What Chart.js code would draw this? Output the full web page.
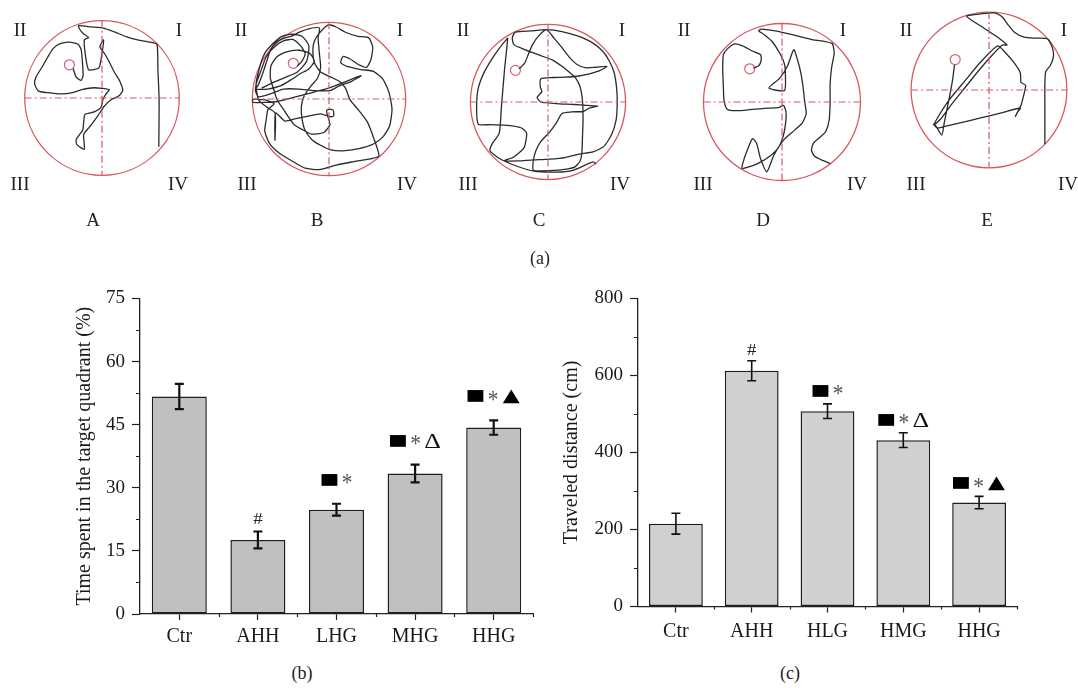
<!DOCTYPE html>
<html><head><meta charset="utf-8">
<script src="https://cdn.jsdelivr.net/npm/chart.js@4.4.1/dist/chart.umd.min.js"></script>
<style>
html,body{margin:0;padding:0;background:#fff;width:1078px;height:688px;overflow:hidden;}
body{position:relative;font-family:"Liberation Serif","Times New Roman",serif;color:#222;}
.lbl{position:absolute;font-size:19px;transform:translate(-50%,-50%);white-space:nowrap;line-height:1;}
.box{position:absolute;}
</style></head><body>
<script>
// ---------------- DATA ----------------
const groupsB = ['Ctr','AHH','LHG','MHG','HHG'];
const timeInTarget = [51.7,17.6,24.8,33.4,44.3];
const timeInTargetErr = [3.0,2.0,1.4,2.1,1.7];
const marksB = ['','#','■*','■*Δ','■*▲'];
const yTicksB = [0,15,30,45,60,75];

const groupsC = ['Ctr','AHH','HLG','HMG','HHG'];
const travelDistance = [215,612,507,432,270];
const travelDistanceErr = [27,26,19,19,16];
const marksC = ['','#','■*','■*Δ','■*▲'];
const yTicksC = [0,200,400,600,800];

const poolNames = ['A','B','C','D','E'];
const quadrantNames = ['I','II','III','IV'];

// swim tracks, pool coordinates (y grows downward), one array per pool
const trackA = [[212,200],[222,228],[238,238],[244,222],[242,180],[238,140],[228,122],[200,115],[170,120],[148,135],[132,160],[112,195],[92,228],[88,250],[100,272],[130,278],[175,282],[210,278],[240,268],[280,262],[328,268],[318,282],[308,300],[302,325],[280,340],[250,348],[246,372],[243,398],[222,428],[224,445],[248,460],[246,412],[265,388],[290,355],[312,322],[335,300],[360,288],[372,270],[362,240],[345,212],[328,178],[312,150],[298,130],[310,108],[305,150],[295,198],[262,204],[252,160],[248,108],[262,100],[245,88],[232,72],[230,62],[270,66],[310,70],[345,82],[385,98],[420,108],[460,115],[482,122],[485,200],[489,300],[488,452]];
const trackB = [[224,192],[240,175],[250,150],[235,125],[210,105],[180,110],[150,130],[125,160],[110,200],[95,240],[90,270],[100,290],[140,280],[180,265],[230,265],[280,270],[330,270],[360,255],[400,240],[430,222],[330,260],[240,285],[160,305],[82,308],[82,298],[120,300],[150,312],[130,332],[125,362],[120,400],[135,440],[165,470],[205,495],[250,520],[300,524],[350,510],[400,500],[460,490],[488,480],[470,420],[450,370],[420,330],[395,300],[380,262],[360,240],[330,225],[300,210],[280,180],[275,140],[280,110],[300,80],[325,58],[350,65],[380,82],[420,95],[455,100],[468,130],[462,170],[448,195],[420,185],[395,168],[372,160],[365,180],[385,192],[430,202],[470,208],[500,232],[520,275],[530,330],[522,385],[500,420],[470,442],[420,458],[370,464],[330,460],[300,446],[272,428],[250,398],[240,360],[238,320],[248,285],[268,256],[290,230],[300,195],[296,150],[292,100],[296,68],[265,70],[235,80],[205,95],[185,100],[160,112],[140,135],[128,170],[115,210],[100,250],[92,265],[130,265],[170,255],[205,235],[235,215],[262,200],[280,175],[265,150],[230,140],[190,145],[160,160],[140,190],[138,230],[150,270],[160,300],[180,330],[200,360],[215,380],[240,395],[270,410],[310,405],[330,380],[322,350],[320,332],[340,332],[342,352],[330,354],[300,345],[260,352],[220,360],[185,368],[155,342],[153,430],[153,342],[125,322],[100,300],[92,250],[105,190],[120,150],[145,120],[175,95],[210,88],[240,95],[262,125],[255,175],[225,210],[185,228],[145,245],[110,262]];
const trackC = [[232,198],[250,180],[262,150],[275,120],[295,92],[320,72],[345,100],[370,130],[395,162],[420,185],[448,195],[480,193],[515,190],[490,205],[455,215],[420,222],[380,225],[340,226],[302,230],[300,255],[305,272],[290,290],[302,305],[350,310],[410,313],[450,316],[485,318],[455,326],[440,335],[400,337],[370,342],[352,372],[330,402],[302,432],[286,462],[278,492],[278,525],[330,526],[385,521],[412,514],[428,496],[434,470],[436,420],[438,360],[436,300],[428,255],[412,225],[395,210],[370,190],[340,170],[300,155],[265,142],[240,132],[215,120],[210,98],[220,80],[270,76],[322,72],[370,78],[420,92],[465,112],[500,140],[522,172],[538,210],[546,260],[548,312],[544,365],[530,410],[505,448],[470,466],[430,472],[380,484],[330,489],[270,492],[230,495],[185,494],[215,482],[248,452],[256,405],[238,388],[195,380],[140,378],[100,376],[95,320],[100,262],[118,212],[145,165],[168,132],[190,105],[195,100],[185,200],[175,320],[168,405],[145,440],[138,462],[170,488],[225,512],[280,528],[350,531],[405,525],[470,498],[480,505]];
const trackD = [[275,198],[292,190],[300,172],[298,155],[270,142],[240,126],[215,120],[192,135],[178,155],[176,205],[178,255],[180,300],[190,330],[220,335],[270,331],[320,327],[355,325],[372,318],[380,340],[378,380],[370,420],[355,455],[330,480],[290,505],[255,518],[238,520],[245,490],[258,455],[272,425],[285,440],[298,490],[318,532],[340,480],[370,432],[405,400],[432,375],[445,345],[440,305],[435,260],[428,215],[418,175],[405,138],[385,190],[360,230],[325,262],[375,270],[378,220],[375,185],[360,150],[335,112],[310,90],[292,78],[300,72],[345,78],[400,90],[460,105],[528,118],[535,150],[527,195],[522,250],[522,310],[519,365],[508,402],[488,422],[468,440],[462,462],[472,482],[500,496],[522,505]];
const trackE = [[246,188],[240,235],[232,280],[222,330],[212,380],[205,415],[185,385],[178,380],[190,392],[205,390],[260,377],[330,360],[400,343],[458,328],[450,340],[442,355],[452,335],[460,320],[468,290],[475,255],[460,245],[458,215],[440,185],[410,150],[385,128],[330,180],[280,240],[230,300],[200,345],[180,382],[200,365],[235,318],[280,262],[330,200],[370,155],[400,125],[415,125],[385,100],[340,70],[285,33],[330,25],[378,22],[400,35],[420,62],[440,85],[470,100],[510,103],[545,105],[560,130],[565,160],[555,190],[540,210],[537,250],[537,320],[537,445]];
const tracks = [trackA,trackB,trackC,trackD,trackE];
// pool centre / radius and platform position, in each pool's own coordinates
const poolCentres = [[305,295],[327,297],[325,305],[367,307],[357,270]];
const poolRadii = [249,247,250,253,251];
const platforms = [[200,188],[212,182],[220,203],[263,200],[248,172]];

// ---------------- LAYOUT / STYLE ----------------
const FONT = '"Liberation Serif","Times New Roman",serif';
const RED = '#d9585f';
const poolOrigins = [[0,0],[220,0],[440,0],[660,0],[870,0]];
const POOL_BOX = 180, POOL_HALF = 270; // canvas px, pool units (3 units per px)
const quadLabelPos = [
  [[179,29],[20,29],[20,183],[178,183]],
  [[400,29],[241,29],[247,183],[407,183]],
  [[622,29],[463,29],[468,183],[620,183]],
  [[843,29],[684,29],[703,183],[857,183]],
  [[1064,29],[906,29],[916,183],[1068,183]]
];
const poolNamePos = [[93,219],[317,219],[539,219],[763,219],[987,219]];

function addLabel(text, x, y, size) {
  const d = document.createElement('div');
  d.className = 'lbl';
  d.textContent = text;
  d.style.left = x + 'px'; d.style.top = y + 'px';
  if (size) d.style.fontSize = size + 'px';
  document.body.appendChild(d);
}
function addCanvas(l, t, w, h) {
  const b = document.createElement('div');
  b.className = 'box';
  b.style.left = l + 'px'; b.style.top = t + 'px';
  b.style.width = w + 'px'; b.style.height = h + 'px';
  const c = document.createElement('canvas');
  b.appendChild(c); document.body.appendChild(b);
  return c;
}

// ---------- pool charts ----------
const poolCirclePlugin = {
  id: 'poolCircle',
  beforeDatasetsDraw(chart, args, opts) {
    const {ctx, scales: {x, y}} = chart;
    const px = x.getPixelForValue(opts.cx), py = y.getPixelForValue(opts.cy);
    const pr = Math.abs(x.getPixelForValue(opts.cx + opts.r) - px);
    ctx.save();
    ctx.beginPath(); ctx.arc(px, py, pr, 0, Math.PI * 2);
    ctx.strokeStyle = RED; ctx.lineWidth = 1.3; ctx.stroke();
    ctx.restore();
  }
};

tracks.forEach((trk, i) => {
  const [cx, cy] = poolCentres[i], r = poolRadii[i];
  const [ox, oy] = poolOrigins[i];
  const left = ox + cx / 3 - POOL_BOX / 2, top = oy + cy / 3 - POOL_BOX / 2;
  const cv = addCanvas(left, top, POOL_BOX, POOL_BOX);
  new Chart(cv, {
    type: 'scatter',
    data: { datasets: [
      { data: [{x: cx, y: cy - r}, {x: cx, y: cy + r}], showLine: true, borderColor: RED, borderWidth: 1.2, borderDash: [7,3,2,3], pointRadius: 0 },
      { data: [{x: cx - r, y: cy}, {x: cx + r, y: cy}], showLine: true, borderColor: RED, borderWidth: 1.2, borderDash: [7,3,2,3], pointRadius: 0 },
      { data: trk.map(p => ({x: p[0], y: p[1]})), showLine: true, borderColor: '#2b2b2b', borderWidth: 1.3, tension: 0.2, pointRadius: 0 },
      { data: [{x: platforms[i][0], y: platforms[i][1]}], pointRadius: 5, pointBorderColor: '#d8606e', pointBackgroundColor: 'rgba(0,0,0,0)', pointBorderWidth: 1.2 }
    ]},
    options: {
      responsive: true, maintainAspectRatio: false, animation: false,
      layout: { padding: 0 },
      scales: {
        x: { type: 'linear', display: false, min: cx - POOL_HALF, max: cx + POOL_HALF },
        y: { type: 'linear', display: false, reverse: true, min: cy - POOL_HALF, max: cy + POOL_HALF }
      },
      plugins: { legend: {display: false}, tooltip: {enabled: false}, poolCircle: {cx, cy, r} },
      events: []
    },
    plugins: [poolCirclePlugin]
  });
  quadrantNames.forEach((q, k) => addLabel(q, quadLabelPos[i][k][0], quadLabelPos[i][k][1]));
  addLabel(poolNames[i], poolNamePos[i][0], poolNamePos[i][1]);
});

addLabel('(a)', 540, 258, 18);
addLabel('(b)', 302, 673, 18);
addLabel('(c)', 790, 673, 18);

// ---------- bar charts ----------
function fitGlyph(ctx, ch, fam, cx, cy, w, h, color) {
  ctx.save();
  ctx.font = '100px ' + fam;
  ctx.textAlign = 'left'; ctx.textBaseline = 'alphabetic';
  const m = ctx.measureText(ch);
  const gw = m.actualBoundingBoxLeft + m.actualBoundingBoxRight;
  const gh = m.actualBoundingBoxAscent + m.actualBoundingBoxDescent;
  ctx.translate(cx - w / 2, cy - h / 2);
  ctx.scale(w / gw, h / gh);
  ctx.fillStyle = color;
  ctx.fillText(ch, m.actualBoundingBoxLeft, m.actualBoundingBoxAscent);
  ctx.restore();
}

const errorBarPlugin = {
  id: 'errBars',
  afterDatasetsDraw(chart, args, o) {
    const {ctx} = chart, ys = chart.scales.y, meta = chart.getDatasetMeta(0);
    ctx.save();
    ctx.strokeStyle = '#111'; ctx.lineWidth = o.lw;
    o.values.forEach((v, i) => {
      const x = meta.data[i].x;
      const t = ys.getPixelForValue(v + o.errs[i]), b = ys.getPixelForValue(v - o.errs[i]);
      ctx.beginPath();
      ctx.moveTo(x, t); ctx.lineTo(x, b);
      ctx.moveTo(x - o.cap, t); ctx.lineTo(x + o.cap, t);
      ctx.moveTo(x - o.cap, b); ctx.lineTo(x + o.cap, b);
      ctx.stroke();
      const m = o.marks[i];
      if (!m) return;
      if (m === '#') {
        fitGlyph(ctx, '#', FONT, x, t - o.hashGap, 9, 11, '#222');
        return;
      }
      const cyy = t - o.markGap;
      const spec = {
        '■': {w: 16, h: 12, fam: '"DejaVu Sans"', c: '#000'},
        '*': {w: 9, h: 9, fam: FONT, c: '#555'},
        'Δ': {w: 15, h: 14, fam: FONT, c: '#111'},
        '▲': {w: 17, h: 14, fam: '"DejaVu Sans"', c: '#000'}
      };
      const chars = [...m];
      const gap = 5;
      const total = chars.reduce((s, c) => s + spec[c].w, 0) + gap * (chars.length - 1);
      let xx = x - total / 2;
      chars.forEach(c => {
        const s = spec[c];
        fitGlyph(ctx, c, s.fam, xx + s.w / 2, cyy, s.w, s.h, s.c);
        xx += s.w + gap;
      });
    });
    ctx.restore();
  }
};

const minorTickPlugin = {
  id: 'minorTicks',
  afterDraw(chart, args, o) {
    const {ctx} = chart, xs = chart.scales.x, ys = chart.scales.y;
    ctx.save();
    ctx.strokeStyle = '#222'; ctx.lineWidth = 1.2;
    ctx.beginPath();
    for (let k = 0; k < o.yTicks.length - 1; k++) {
      const py = Math.round(ys.getPixelForValue((o.yTicks[k] + o.yTicks[k + 1]) / 2)) + 0.5;
      ctx.moveTo(ys.right, py); ctx.lineTo(ys.right - 4, py);
    }
    for (let k = 0; k < o.n; k++) {
      const px = Math.round(xs.getPixelForValue(k + 0.5)) + 0.5;
      ctx.moveTo(px, xs.top); ctx.lineTo(px, xs.top + 3);
    }
    ctx.stroke();
    ctx.restore();
  }
};

function barChart(cv, cfg) {
  return new Chart(cv, {
    type: 'bar',
    data: { labels: cfg.labels, datasets: [{
      data: cfg.values, backgroundColor: cfg.fill, borderColor: '#1e1e1e', borderWidth: 1.5,
      borderSkipped: false, barPercentage: cfg.barPct, categoryPercentage: 1
    }]},
    options: {
      responsive: true, maintainAspectRatio: false, animation: false, events: [],
      layout: { padding: cfg.pad },
      scales: {
        x: {
          offset: true,
          grid: { display: true, offset: false, drawOnChartArea: false, drawTicks: true, tickLength: 6, tickColor: '#222', tickWidth: 1.2 },
          border: { display: true, color: '#222', width: 1.3 },
          ticks: { font: {family: FONT, size: 20}, color: '#1a1a1a', padding: cfg.xPad },
          afterFit: s => { s.height = cfg.xH; }
        },
        y: {
          min: 0, max: cfg.yTicks[cfg.yTicks.length - 1],
          afterBuildTicks: s => { s.ticks = cfg.yTicks.map(v => ({value: v})); },
          grid: { display: true, drawOnChartArea: false, drawTicks: true, tickLength: 8, tickColor: '#222', tickWidth: 1.2 },
          border: { display: true, color: '#222', width: 1.3 },
          ticks: { font: {family: FONT, size: 19}, color: '#1a1a1a', padding: 7 },
          title: { display: true, text: cfg.title, font: {family: FONT, size: 20}, color: '#1a1a1a', padding: {top: cfg.titlePad, bottom: 0} },
          afterFit: s => { s.width = cfg.yW; }
        }
      },
      plugins: {
        legend: {display: false}, tooltip: {enabled: false},
        errBars: { values: cfg.values, errs: cfg.errs, marks: cfg.marks, lw: cfg.errLw, cap: 4.5, hashGap: cfg.hashGap, markGap: cfg.markGap },
        minorTicks: { yTicks: cfg.yTicks, n: cfg.labels.length }
      }
    },
    plugins: [errorBarPlugin, minorTickPlugin]
  });
}

barChart(addCanvas(0, 280, 560, 400), {
  labels: groupsB, values: timeInTarget, errs: timeInTargetErr, marks: marksB, yTicks: yTicksB,
  title: 'Time spent in the target quadrant (%)', fill: '#c0c0c0', barPct: 0.70,
  pad: {top: 16, right: 27, left: 0, bottom: 0}, yW: 140, xH: 66, xPad: 5, titlePad: 73,
  errLw: 2.2, hashGap: 13, markGap: 24
});
barChart(addCanvas(540, 280, 538, 400), {
  labels: groupsC, values: travelDistance, errs: travelDistanceErr, marks: marksC, yTicks: yTicksC,
  title: 'Traveled distance (cm)', fill: '#d0d0d0', barPct: 0.71,
  pad: {top: 18, right: 61, left: 0, bottom: 0}, yW: 98, xH: 73.5, xPad: 7, titlePad: 20,
  errLw: 1.6, hashGap: 11, markGap: 13
});
</script>
</body></html>
